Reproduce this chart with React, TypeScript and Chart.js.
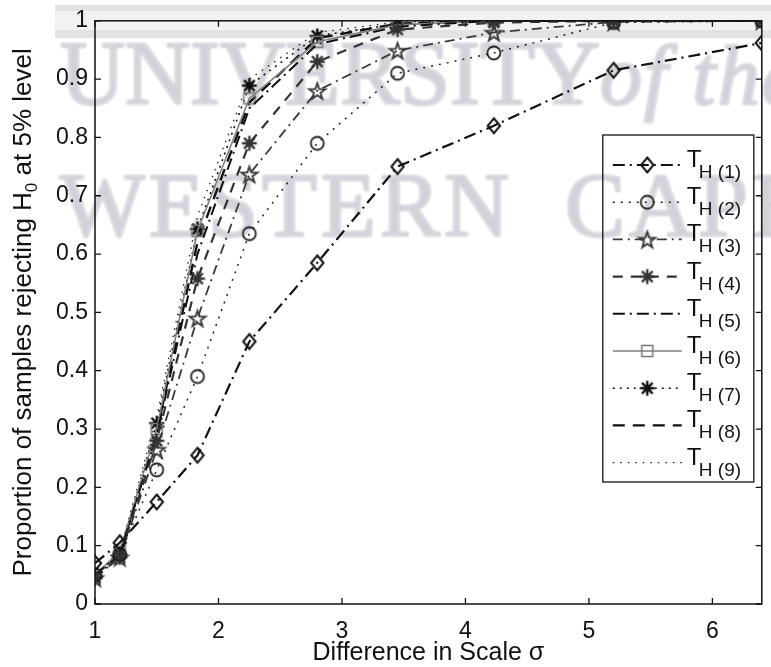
import React, { useEffect, useRef } from "react";
import { Chart, registerables } from "chart.js";

Chart.register(...registerables);

// Difference in scale (sigma) at which each test was evaluated
const sigma = [1, 1.2, 1.5, 1.83, 2.25, 2.8, 3.45, 4.23, 5.2, 6.4];

// Proportion of samples rejecting H0 at the 5% level, one array per statistic
const th1 = [0.07, 0.105, 0.175, 0.255, 0.45, 0.585, 0.75, 0.82, 0.915, 0.962];
const th2 = [0.05, 0.085, 0.23, 0.39, 0.635, 0.79, 0.91, 0.945, 0.997, 1.0];
const th3 = [0.045, 0.08, 0.265, 0.49, 0.737, 0.88, 0.949, 0.98, 0.998, 1.0];
const th4 = [0.045, 0.08, 0.28, 0.558, 0.79, 0.93, 0.985, 0.997, 1.0, 1.0];
const th5 = [0.05, 0.085, 0.29, 0.6, 0.85, 0.96, 0.99, 1.0, 1.0, 1.0];
const th6 = [0.05, 0.09, 0.3, 0.64, 0.867, 0.964, 0.993, 1.0, 1.0, 1.0];
const th7 = [0.045, 0.085, 0.31, 0.643, 0.889, 0.974, 0.995, 1.0, 1.0, 1.0];
const th8 = [0.05, 0.085, 0.295, 0.62, 0.86, 0.97, 0.995, 1.0, 1.0, 1.0];
const th9 = [0.05, 0.09, 0.32, 0.665, 0.9, 0.98, 0.998, 1.0, 1.0, 1.0];

const seriesValues = [th1, th2, th3, th4, th5, th6, th7, th8, th9];
const seriesSubscripts = ["H (1)", "H (2)", "H (3)", "H (4)", "H (5)", "H (6)", "H (7)", "H (8)", "H (9)"];

const xTicks = [1, 2, 3, 4, 5, 6];
const yTicks = [0, 0.1, 0.2, 0.3, 0.4, 0.5, 0.6, 0.7, 0.8, 0.9, 1];
const yTickLabels = ["0", "0.1", "0.2", "0.3", "0.4", "0.5", "0.6", "0.7", "0.8", "0.9", "1"];

const xTitle = "Difference in Scale \u03c3";
const yTitleMain = "Proportion of samples rejecting H";
const yTitleSub = "0";
const yTitleTail = " at 5% level";

const SANS = '"Liberation Sans", Arial, Helvetica, sans-serif';
const SERIF = '"Liberation Serif", "Times New Roman", serif';

function makeCanvas(size: number, draw: (g: CanvasRenderingContext2D, c: number) => void) {
  const cv = document.createElement("canvas");
  cv.width = size;
  cv.height = size;
  const g = cv.getContext("2d")!;
  draw(g, size / 2);
  return cv;
}

function buildMarkers() {
  const diamond = makeCanvas(20, (g, c) => {
    g.strokeStyle = "#111";
    g.lineWidth = 2;
    g.beginPath();
    g.moveTo(c, c - 7.5);
    g.lineTo(c + 6.2, c);
    g.lineTo(c, c + 7.5);
    g.lineTo(c - 6.2, c);
    g.closePath();
    g.stroke();
  });
  const circle = makeCanvas(20, (g, c) => {
    g.strokeStyle = "#222";
    g.lineWidth = 1.8;
    g.beginPath();
    g.arc(c, c, 6.5, 0, Math.PI * 2);
    g.stroke();
  });
  const star = makeCanvas(22, (g, c) => {
    g.strokeStyle = "#3a3a3a";
    g.lineWidth = 1.9;
    g.beginPath();
    for (let i = 0; i < 10; i++) {
      const a = -Math.PI / 2 + (i * Math.PI) / 5;
      const r = i % 2 === 0 ? 8.5 : 3.4;
      const px = c + r * Math.cos(a);
      const py = c + 1 + r * Math.sin(a);
      if (i === 0) g.moveTo(px, py);
      else g.lineTo(px, py);
    }
    g.closePath();
    g.stroke();
  });
  const burst = (color: string) =>
    makeCanvas(20, (g, c) => {
      g.strokeStyle = color;
      g.fillStyle = color;
      g.lineWidth = 2.4;
      for (let i = 0; i < 8; i++) {
        const a = (i * Math.PI) / 4;
        g.beginPath();
        g.moveTo(c, c);
        g.lineTo(c + 7.5 * Math.cos(a), c + 7.5 * Math.sin(a));
        g.stroke();
      }
      g.beginPath();
      g.arc(c, c, 3.6, 0, Math.PI * 2);
      g.fill();
    });
  const square = makeCanvas(16, (g, c) => {
    g.strokeStyle = "#777";
    g.lineWidth = 1.5;
    g.strokeRect(c - 5.5, c - 5.5, 11, 11);
  });
  return { diamond, circle, star, burstGray: burst("#333"), burstBlack: burst("#111"), square };
}

export default function App() {
  const ref = useRef<HTMLCanvasElement>(null);

  useEffect(() => {
    document.body.style.margin = "0";
    const canvas = ref.current!;
    const m = buildMarkers();

    const styles: any[] = [
      { borderColor: "#111", borderWidth: 2.2, borderDash: [12, 5, 2, 5], pointStyle: m.diamond },
      { borderColor: "#222", borderWidth: 1.5, borderDash: [2, 6], pointStyle: m.circle },
      { borderColor: "#3a3a3a", borderWidth: 1.8, borderDash: [10, 5, 2, 5], pointStyle: m.star },
      { borderColor: "#333", borderWidth: 2.2, borderDash: [10, 8], pointStyle: m.burstGray },
      { borderColor: "#111", borderWidth: 2, borderDash: [12, 5, 2, 5], pointStyle: false },
      { borderColor: "#808080", borderWidth: 1.6, borderDash: [], pointStyle: m.square },
      { borderColor: "#111", borderWidth: 1.6, borderDash: [2, 5], pointStyle: m.burstBlack },
      { borderColor: "#111", borderWidth: 2.4, borderDash: [12, 8], pointStyle: false },
      { borderColor: "#222", borderWidth: 1.3, borderDash: [1.5, 6], pointStyle: false },
    ];

    const datasets = seriesValues.map((vals, i) => ({
      label: "T" + seriesSubscripts[i],
      data: vals.map((v, j) => ({ x: sigma[j], y: v })),
      backgroundColor: "rgba(0,0,0,0)",
      tension: 0,
      fill: false,
      pointRadius: styles[i].pointStyle ? 7 : 0,
      order: i,
      ...styles[i],
    }));

    const backdrop = {
      id: "backdrop",
      beforeDraw(chart: any) {
        const g = chart.ctx as CanvasRenderingContext2D;
        g.save();
        g.fillStyle = "#fff";
        g.fillRect(0, 0, chart.width, chart.height);
        // faint header bar of the scanned page
        g.fillStyle = "rgba(200,200,206,0.5)";
        g.fillRect(55, 5, 716, 6);
        g.fillRect(55, 30, 716, 8);
        g.fillStyle = "rgba(222,222,226,0.4)";
        g.fillRect(55, 11, 716, 19);
        // page watermark
        g.filter = "blur(1.3px)";
        g.fillStyle = "rgb(210,210,219)";
        g.strokeStyle = "rgb(210,210,219)";
        g.lineWidth = 2;
        g.textBaseline = "alphabetic";
        g.textAlign = "left";
        const word = (t: string, font: string, x: number, y: number, sp: string) => {
          g.font = font;
          (g as any).letterSpacing = sp;
          g.fillText(t, x, y);
          g.strokeText(t, x, y);
        };
        word("UNIVERSITY", `90px ${SERIF}`, 60, 104, "0px");
        word("of the", `italic 84px ${SERIF}`, 600, 104, "2px");
        word("WESTERN", `90px ${SERIF}`, 60, 236, "4px");
        word("CAPE", `90px ${SERIF}`, 565, 236, "4px");
        g.restore();
      },
    };

    const frame = {
      id: "frame",
      afterDatasetsDraw(chart: any) {
        const g = chart.ctx as CanvasRenderingContext2D;
        const a = chart.chartArea;
        const xs = chart.scales.x;
        const ys = chart.scales.y;
        g.save();
        g.strokeStyle = "#111";
        g.lineWidth = 1.5;
        g.setLineDash([]);
        g.strokeRect(a.left, a.top, a.right - a.left, a.bottom - a.top);
        g.lineWidth = 1.3;
        const tl = 6;
        g.beginPath();
        xs.ticks.forEach((t: any) => {
          const px = xs.getPixelForValue(t.value);
          g.moveTo(px, a.bottom);
          g.lineTo(px, a.bottom - tl);
          g.moveTo(px, a.top);
          g.lineTo(px, a.top + tl);
        });
        ys.ticks.forEach((t: any) => {
          const py = ys.getPixelForValue(t.value);
          g.moveTo(a.left, py);
          g.lineTo(a.left + tl, py);
          g.moveTo(a.right, py);
          g.lineTo(a.right - tl, py);
        });
        g.stroke();
        g.restore();
      },
    };

    const legendBox = {
      id: "legendBox",
      afterDraw(chart: any) {
        const g = chart.ctx as CanvasRenderingContext2D;
        const a = chart.chartArea;
        const boxL = a.right - 159;
        const boxT = 135;
        const boxW = 151;
        const boxH = 347;
        g.save();
        g.strokeStyle = "#111";
        g.lineWidth = 1.3;
        g.setLineDash([]);
        g.strokeRect(boxL, boxT, boxW, boxH);
        chart.data.datasets.forEach((ds: any, i: number) => {
          const y = boxT + 30 + i * 37.2;
          const x0 = boxL + 10;
          const x1 = boxL + 79;
          g.strokeStyle = ds.borderColor;
          g.lineWidth = ds.borderWidth;
          g.setLineDash(ds.borderDash || []);
          g.beginPath();
          g.moveTo(x0, y);
          g.lineTo(x1, y);
          g.stroke();
          g.setLineDash([]);
          if (ds.pointStyle) {
            const img = ds.pointStyle as HTMLCanvasElement;
            g.drawImage(img, (x0 + x1) / 2 - img.width / 2, y - img.height / 2);
          }
          g.fillStyle = "#111";
          g.textBaseline = "alphabetic";
          g.textAlign = "left";
          g.font = `24px ${SANS}`;
          g.fillText("T", boxL + 84, y + 2);
          g.font = `19px ${SANS}`;
          g.fillText(seriesSubscripts[i], boxL + 96, y + 13);
        });
        g.restore();
      },
    };

    const yTitle = {
      id: "yTitle",
      afterDraw(chart: any) {
        const g = chart.ctx as CanvasRenderingContext2D;
        const a = chart.chartArea;
        const big = `26px ${SANS}`;
        const small = `17px ${SANS}`;
        g.save();
        g.font = big;
        const w1 = g.measureText(yTitleMain).width;
        const w3 = g.measureText(yTitleTail).width;
        g.font = small;
        const w2 = g.measureText(yTitleSub).width;
        const total = w1 + w2 + w3;
        g.translate(31, (a.top + a.bottom) / 2);
        g.rotate(-Math.PI / 2);
        g.fillStyle = "#111";
        g.textBaseline = "alphabetic";
        g.textAlign = "left";
        let x = -total / 2;
        g.font = big;
        g.fillText(yTitleMain, x, 0);
        x += w1;
        g.font = small;
        g.fillText(yTitleSub, x, 6);
        x += w2;
        g.font = big;
        g.fillText(yTitleTail, x, 0);
        g.restore();
      },
    };

    const chart = new Chart(canvas, {
      type: "line",
      data: { datasets },
      options: {
        responsive: false,
        animation: false,
        events: [],
        layout: { padding: { top: 18, right: 9, left: 0, bottom: 0 } },
        plugins: { legend: { display: false }, tooltip: { enabled: false }, title: { display: false } },
        scales: {
          x: {
            type: "linear",
            min: 1,
            max: 6.4,
            grid: { display: false, drawTicks: false },
            border: { display: false },
            afterBuildTicks: (s: any) => {
              s.ticks = xTicks.map((v) => ({ value: v }));
            },
            afterFit: (s: any) => {
              s.height = 63;
            },
            ticks: {
              color: "#111",
              font: { family: SANS, size: 23 },
              padding: 14,
              maxRotation: 0,
              autoSkip: false,
              callback: (v: any) => String(v),
            },
            title: {
              display: true,
              text: xTitle,
              color: "#111",
              font: { family: SANS, size: 25 },
              padding: { top: 0, bottom: -1 },
            },
          },
          y: {
            type: "linear",
            min: 0,
            max: 1,
            grid: { display: false, drawTicks: false },
            border: { display: false },
            afterBuildTicks: (s: any) => {
              s.ticks = yTicks.map((v) => ({ value: v }));
            },
            afterFit: (s: any) => {
              s.width = 95;
            },
            ticks: {
              color: "#111",
              font: { family: SANS, size: 23 },
              padding: 7,
              autoSkip: false,
              callback: (_v: any, i: number) => yTickLabels[i],
            },
          },
        },
      } as any,
      plugins: [backdrop, frame, legendBox, yTitle],
    });

    return () => chart.destroy();
  }, []);

  return (
    <div style={{ position: "fixed", left: 0, top: 0, width: 771, height: 667, background: "#fff" }}>
      <canvas ref={ref} width={771} height={667} style={{ display: "block" }} />
    </div>
  );
}
